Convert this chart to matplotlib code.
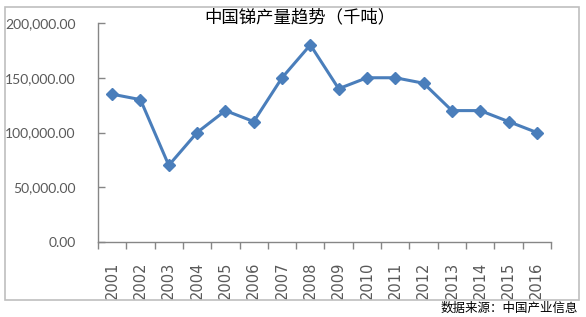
import matplotlib
matplotlib.use("Agg")
import matplotlib.pyplot as plt
from matplotlib.patches import Rectangle
from matplotlib.ticker import FuncFormatter, MultipleLocator

plt.rcParams['font.family'] = ['Lato', 'Noto Sans CJK SC', 'DejaVu Sans']

years = ['2001', '2002', '2003', '2004', '2005', '2006', '2007', '2008',
         '2009', '2010', '2011', '2012', '2013', '2014', '2015', '2016']
output = [135000, 130000, 70000, 100000, 120000, 110000, 150000, 180000,
          140000, 150000, 150000, 145000, 120000, 120000, 110000, 100000]
title = '中国锑产量趋势（千吨）'
source = '数据来源：中国产业信息'

W, H = 586, 317
fig = plt.figure(figsize=(W / 100, H / 100), dpi=100)
fig.patch.set_facecolor('white')

# outer border
fig.patches.append(Rectangle((5 / W, 1 - 300 / H), 574 / W, 293 / H,
                             transform=fig.transFigure, fill=False,
                             edgecolor='#bfbfbf', linewidth=1.2))

ax = fig.add_axes([98 / W, 1 - 242 / H, (551 - 98) / W, (242 - 23) / H])
x = list(range(len(years)))
ax.plot(x, output, color='#4a7ebb', linewidth=2.2, marker='D',
        markersize=6.5, markerfacecolor='#4a7ebb', markeredgecolor='#4a7ebb')

ax.set_xlim(-0.5, len(years) - 0.5)
ax.set_ylim(0, 200000)
ax.yaxis.set_major_locator(MultipleLocator(50000))
ax.yaxis.set_major_formatter(FuncFormatter(lambda v, p: f'{v:,.2f}'))

ax.set_xticks([i - 0.5 for i in range(len(years) + 1)])
ax.set_xticklabels([])
ax.set_xticks(x, minor=True)
ax.set_xticklabels(years, minor=True, rotation=90, fontsize=10.5,
                   color='#595959', family='DejaVu Sans')
ax.tick_params(axis='x', which='major', direction='out', length=5,
               color='#868686', width=1)
ax.tick_params(axis='x', which='minor', length=0, pad=14)
ax.tick_params(axis='y', direction='in', length=5, color='#868686',
               width=1, labelsize=10, labelcolor='#595959', pad=16)

for s in ['top', 'right']:
    ax.spines[s].set_visible(False)
for s in ['left', 'bottom']:
    ax.spines[s].set_color('#868686')
    ax.spines[s].set_linewidth(1)

fig.text(300 / W, 1 - 17 / H, title, ha='center', va='center',
         fontsize=12.5, color='#000000', family='Noto Sans CJK SC')
fig.text(578 / W, 1 - 308 / H, source, ha='right', va='center',
         fontsize=9, color='#000000', family='Noto Sans CJK SC')

fig.savefig('out.png', dpi=100)
